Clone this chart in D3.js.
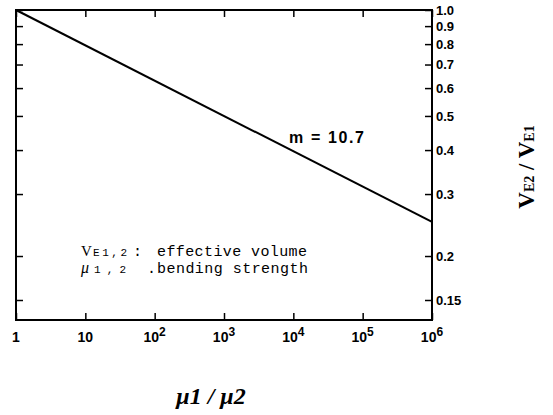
<!DOCTYPE html>
<html>
<head>
<meta charset="utf-8">
<script src="https://cdn.jsdelivr.net/npm/d3@7"></script>
<style>
  body { margin: 0; background: #fff; }
  svg { display: block; }
</style>
</head>
<body>
<div id="chart"></div>
<script>
// data
var ratioEnds = [1, 1e6];          // mu1 / mu2
var volumeEnds = [1.0, 0.25];      // VE2 / VE1
var xTicks = [1, 10, 100, 1000, 10000, 100000, 1000000];
var xTickExp = ["1", "10", "2", "3", "4", "5", "6"];
var yTicks = [1.0, 0.9, 0.8, 0.7, 0.6, 0.5, 0.4, 0.3, 0.2, 0.15];
var yTickLabels = ["1.0", "0.9", "0.8", "0.7", "0.6", "0.5", "0.4", "0.3", "0.2", "0.15"];

var svgWidth = 553, svgHeight = 415;
var margin = {top: 10, right: 121, bottom: 95, left: 16};
var width = svgWidth - margin.left - margin.right;
var height = svgHeight - margin.top - margin.bottom;

var svg = d3.select("#chart").append("svg")
  .attr("width", svgWidth)
  .attr("height", svgHeight);

var g = svg.append("g")
  .attr("transform", "translate(" + margin.left + "," + margin.top + ")");

var x = d3.scaleLog().domain([1, 1e6]).range([0, width]);
var y = d3.scaleLog().domain([0.1316, 1.0]).range([height, 0]);

// frame
g.append("rect")
  .attr("width", width).attr("height", height)
  .attr("fill", "none").attr("stroke", "#000").attr("stroke-width", 2);

// bottom axis, ticks pointing in
var xAxis = g.append("g")
  .attr("transform", "translate(0," + height + ")")
  .call(d3.axisBottom(x).tickValues(xTicks).tickSize(-7).tickFormat(""));
xAxis.select(".domain").remove();
xAxis.selectAll("line").attr("stroke-width", 1.5);

// top axis, ticks pointing in
var xTop = g.append("g")
  .call(d3.axisTop(x).tickValues(xTicks).tickSize(-7).tickFormat(""));
xTop.select(".domain").remove();
xTop.selectAll("line").attr("stroke-width", 1.5);

// x tick labels with superscripts
var xl = g.append("g").selectAll("text")
  .data(xTicks)
  .enter().append("text")
  .attr("x", function(d) { return x(d); })
  .attr("y", height + 22)
  .attr("text-anchor", "middle")
  .attr("font-family", "Liberation Sans, Arial, sans-serif")
  .attr("font-size", 14)
  .attr("font-weight", "bold");
xl.each(function(d, i) {
  var t = d3.select(this);
  if (i < 2) {
    t.text(xTickExp[i]);
  } else {
    t.append("tspan").text("10");
    t.append("tspan").attr("dy", -6).attr("font-size", 12).text(xTickExp[i]);
  }
});

// right axis: ticks inward, labels outside
var yRight = g.append("g")
  .attr("transform", "translate(" + width + ",0)")
  .call(d3.axisRight(y).tickValues(yTicks).tickSize(-7).tickPadding(4)
    .tickFormat(function(d, i) { return yTickLabels[i]; }));
yRight.select(".domain").remove();
yRight.selectAll("line").attr("stroke-width", 1.5);
yRight.selectAll("text")
  .attr("font-family", "Liberation Sans, Arial, sans-serif")
  .attr("font-size", 13)
  .attr("font-weight", "bold")
  .attr("fill", "#000");

// left axis: ticks inward, no labels
var yLeft = g.append("g")
  .call(d3.axisLeft(y).tickValues(yTicks).tickSize(-7).tickFormat(""));
yLeft.select(".domain").remove();
yLeft.selectAll("line").attr("stroke-width", 1.5);

// the line
var line = d3.line()
  .x(function(d) { return x(d[0]); })
  .y(function(d) { return y(d[1]); });

g.append("path")
  .datum(d3.zip(ratioEnds, volumeEnds))
  .attr("fill", "none")
  .attr("stroke", "#000")
  .attr("stroke-width", 2)
  .attr("d", line);

g.append("text")
  .attr("x", 273).attr("y", 133)
  .attr("font-family", "Liberation Sans, Arial, sans-serif")
  .attr("font-size", 16)
  .attr("font-weight", "bold")
  .attr("textLength", 75)
  .text("m = 10.7");

// legend notes
var mono = "Liberation Mono, DejaVu Sans Mono, monospace";
var n1 = g.append("text")
  .attr("y", 246)
  .attr("font-family", mono).attr("font-size", 15);
n1.append("tspan").attr("x", 65).attr("font-family", "Liberation Serif, serif").text("V");
n1.append("tspan").attr("x", 77).attr("font-size", 11).attr("textLength", 34).text("E1,2");
n1.append("tspan").attr("x", 117).text(":");
n1.append("tspan").attr("x", 141).attr("textLength", 150).text("effective volume");

var n2 = g.append("text")
  .attr("y", 263)
  .attr("font-family", mono).attr("font-size", 15);
n2.append("tspan").attr("x", 65).attr("font-family", "Liberation Serif, serif").attr("font-style", "italic").attr("font-size", 16).text("\u03bc");
n2.append("tspan").attr("x", 78).attr("font-size", 11).attr("textLength", 32).text("1,2");
n2.append("tspan").attr("x", 131).text(".");
n2.append("tspan").attr("x", 141).attr("textLength", 151).text("bending strength");

// axis titles
var xt = svg.append("text")
  .attr("x", 211).attr("y", 404)
  .attr("text-anchor", "middle")
  .attr("font-family", "Liberation Serif, serif")
  .attr("font-style", "italic")
  .attr("font-weight", "bold")
  .attr("font-size", 24);
xt.append("tspan").text("\u03bc1 / \u03bc2");

var yt = svg.append("text")
  .attr("transform", "translate(534,167) rotate(-90)")
  .attr("text-anchor", "middle")
  .attr("font-family", "Liberation Serif, serif")
  .attr("font-weight", "bold")
  .attr("font-size", 23);
yt.append("tspan").text("V");
yt.append("tspan").attr("font-size", 14).text("E2");
yt.append("tspan").text(" / V");
yt.append("tspan").attr("font-size", 14).text("E1");
</script>
</body>
</html>
